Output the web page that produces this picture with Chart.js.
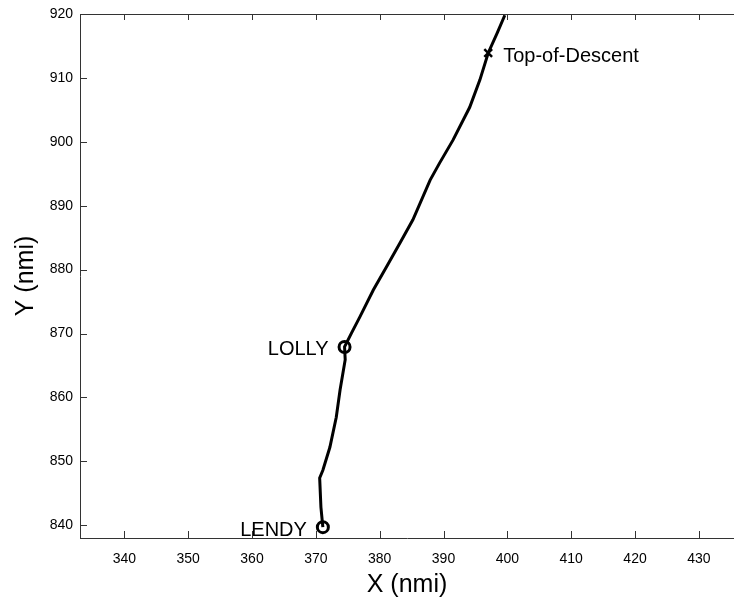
<!DOCTYPE html>
<html>
<head>
<meta charset="utf-8">
<script src="https://cdn.jsdelivr.net/npm/chart.js@4"></script>
<style>
  html, body { margin: 0; padding: 0; background: #fff; }
  canvas { display: block; }
</style>
</head>
<body>
<canvas id="trackChart" width="734" height="598"></canvas>
<script>
// ground track (nmi)
const trackX = [371.1, 370.8, 370.6, 371.1, 372.2, 373.2, 373.8, 374.6, 374.5, 375.6, 376.9, 379.0,
                381.1, 383.2, 385.2, 387.9, 389.4, 391.5, 394.1, 395.7, 397.0, 398.4, 399.6];
const trackY = [839.7, 842.8, 847.4, 848.6, 852.2, 856.9, 861.2, 865.9, 867.9, 870.1, 872.6, 876.8,
                880.5, 884.2, 887.8, 894.0, 896.7, 900.3, 905.4, 909.7, 913.9, 917.0, 919.8];

const fixNames = ['LENDY', 'LOLLY'];
const fixX = [371.1, 374.5];
const fixY = [839.7, 867.9];

const todName = 'Top-of-Descent';
const todX = [397.0];
const todY = [913.9];

const xTicks = [340, 350, 360, 370, 380, 390, 400, 410, 420, 430];
const yTicks = [840, 850, 860, 870, 880, 890, 900, 910, 920];

const toPoints = (xs, ys) => xs.map((x, i) => ({ x: x, y: ys[i] }));

// matlab style: ticks inside the box, top edge drawn, names beside the marks
const boxPlugin = {
    id: 'box',
    afterDraw(chart) {
        const ctx = chart.ctx;
        const area = chart.chartArea;
        const sx = chart.scales.x;
        const sy = chart.scales.y;
        ctx.save();
        ctx.strokeStyle = '#333';
        ctx.lineWidth = 1;
        ctx.beginPath();
        ctx.moveTo(area.left, area.top + 0.5);
        ctx.lineTo(area.right, area.top + 0.5);
        xTicks.forEach(v => {
            const px = Math.round(sx.getPixelForValue(v)) + 0.5;
            ctx.moveTo(px, area.bottom);
            ctx.lineTo(px, area.bottom - 7);
            ctx.moveTo(px, area.top);
            ctx.lineTo(px, area.top + 6);
        });
        yTicks.forEach(v => {
            const py = Math.round(sy.getPixelForValue(v)) + 0.5;
            ctx.moveTo(area.left, py);
            ctx.lineTo(area.left + 7, py);
        });
        ctx.stroke();

        ctx.fillStyle = '#000';
        ctx.font = '20px "Liberation Sans", Arial, sans-serif';
        ctx.textBaseline = 'middle';
        ctx.textAlign = 'right';
        fixNames.forEach((name, i) => {
            const px = sx.getPixelForValue(fixX[i]);
            const py = sy.getPixelForValue(fixY[i]);
            ctx.fillText(name, px - 16, py + 3);
        });
        ctx.textAlign = 'left';
        ctx.fillText(todName, sx.getPixelForValue(todX[0]) + 15, sy.getPixelForValue(todY[0]) + 4);
        ctx.restore();
    }
};

const tickFont = { family: '"Liberation Sans", Arial, sans-serif', size: 14 };
const titleFont = { family: '"Liberation Sans", Arial, sans-serif', size: 25, lineHeight: 1 };

new Chart(document.getElementById('trackChart'), {
    type: 'scatter',
    data: {
        datasets: [
            {
                data: toPoints(trackX, trackY),
                showLine: true,
                borderColor: '#000',
                borderWidth: 3,
                pointRadius: 0,
                tension: 0
            },
            {
                data: toPoints(fixX, fixY),
                pointStyle: 'circle',
                pointRadius: 5.5,
                borderWidth: 3,
                borderColor: '#000',
                backgroundColor: 'rgba(0,0,0,0)'
            },
            {
                data: toPoints(todX, todY),
                pointStyle: 'crossRot',
                pointRadius: 5.5,
                borderWidth: 2.5,
                borderColor: '#000'
            }
        ]
    },
    options: {
        responsive: false,
        animation: false,
        layout: { autoPadding: false, padding: { top: 14, right: 0, left: 0, bottom: 0 } },
        plugins: {
            legend: { display: false },
            tooltip: { enabled: false }
        },
        scales: {
            x: {
                type: 'linear',
                min: 333.06,
                max: 435.5,
                afterBuildTicks: scale => { scale.ticks = xTicks.map(v => ({ value: v })); },
                afterFit: scale => {
                    scale.height = 60;
                    scale.paddingLeft = 0;
                    scale.paddingRight = 0;
                },
                grid: { display: false, drawTicks: false },
                border: { display: true, color: '#333', width: 1 },
                ticks: { color: '#000', font: tickFont, padding: 13, maxRotation: 0, autoSkip: false },
                title: { display: true, text: 'X (nmi)', color: '#000', font: titleFont, padding: 0 }
            },
            y: {
                type: 'linear',
                min: 838,
                max: 920,
                afterBuildTicks: scale => { scale.ticks = yTicks.map(v => ({ value: v })); },
                afterFit: scale => {
                    scale.width = 80;
                    scale.paddingTop = 0;
                    scale.paddingBottom = 0;
                },
                grid: { display: false, drawTicks: false },
                border: { display: true, color: '#333', width: 1 },
                ticks: { color: '#000', font: tickFont, padding: 7, autoSkip: false },
                title: { display: true, text: 'Y (nmi)', color: '#000', font: titleFont, padding: { top: 14, bottom: 0 } }
            }
        }
    },
    plugins: [boxPlugin]
});
</script>
</body>
</html>
